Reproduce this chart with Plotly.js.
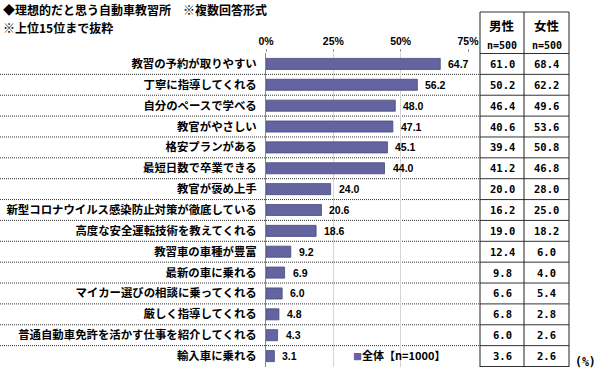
<!DOCTYPE html>
<html>
<head>
<meta charset="utf-8">
<script src="https://cdn.plot.ly/plotly-3.0.1.min.js"></script>
<style>html,body{margin:0;padding:0;background:#fff;}#chart{width:600px;height:381px;}</style>
</head>
<body>
<div id="chart"></div>
<script>
const categories = [
  "教習の予約が取りやすい",
  "丁寧に指導してくれる",
  "自分のペースで学べる",
  "教官がやさしい",
  "格安プランがある",
  "最短日数で卒業できる",
  "教官が褒め上手",
  "新型コロナウイルス感染防止対策が徹底している",
  "高度な安全運転技術を教えてくれる",
  "教習車の車種が豊富",
  "最新の車に乗れる",
  "マイカー選びの相談に乗ってくれる",
  "厳しく指導してくれる",
  "普通自動車免許を活かす仕事を紹介してくれる",
  "輸入車に乗れる"
];
const totalValues = [64.7, 56.2, 48.0, 47.1, 45.1, 44.0, 24.0, 20.6, 18.6, 9.2, 6.9, 6.0, 4.8, 4.3, 3.1];
const maleValues = [61.0, 50.2, 46.4, 40.6, 39.4, 41.2, 20.0, 16.2, 19.0, 12.4, 9.8, 6.6, 6.8, 6.0, 3.6];
const femaleValues = [68.4, 62.2, 49.6, 53.6, 50.8, 46.8, 28.0, 25.0, 18.2, 6.0, 4.0, 5.4, 2.8, 2.6, 2.6];
const xTickVals = [0, 25, 50, 75];
const xTickText = ["0%", "25%", "50%", "75%"];
const seriesName = "全体【n=1000】";
const colHeaders = ["男性", "女性"];
const colN = ["n=500", "n=500"];
const titleLine1 = "◆理想的だと思う自動車教習所　※複数回答形式";
const titleLine2 = "※上位15位まで抜粋";
const unitLabel = "(%)";

// layout geometry (pixels)
const W = 600, H = 381;
const L = 266, R = 468, T = 53, B = 367;
const pw = R - L, ph = B - T;
const px = x => (x - L) / pw;
const py = y => (B - y) / ph;

const JP = '"Noto Sans CJK JP", "Noto Sans", sans-serif';
const NUM = '"Liberation Sans", Arial, sans-serif';
const MONO = '"DejaVu Sans Mono", "Liberation Mono", monospace';
const barColor = '#6464a0';

const shapes = [];
const annotations = [];

// dotted row separators
for (let i = 0; i < categories.length - 1; i++) {
  shapes.push({type: 'line', xref: 'paper', yref: 'y', x0: px(0), x1: px(480), y0: i + 0.5, y1: i + 0.5,
    line: {color: '#333', width: 1, dash: '1px,1px'}, layer: 'below'});
}
// table horizontal lines
const tx0 = px(480), tx1 = px(524), tx2 = px(569);
shapes.push({type: 'line', xref: 'paper', yref: 'paper', x0: tx0, x1: tx2, y0: py(12), y1: py(12), line: {color: '#333', width: 1}});
for (let i = 0; i <= categories.length; i++) {
  shapes.push({type: 'line', xref: 'paper', yref: 'y', x0: tx0, x1: tx2, y0: i - 0.5, y1: i - 0.5, line: {color: '#333', width: 1}});
}
// table vertical lines
[tx0, tx1, tx2].forEach(x => {
  shapes.push({type: 'line', xref: 'paper', yref: 'paper', x0: x, x1: x, y0: 0, y1: py(12), line: {color: '#222', width: 1}});
});

// title
annotations.push({xref: 'paper', yref: 'paper', x: px(1), y: py(10), xanchor: 'left', yanchor: 'middle', showarrow: false,
  text: '<b>' + titleLine1 + '</b>', font: {family: JP, size: 12, color: '#000'}});
annotations.push({xref: 'paper', yref: 'paper', x: px(1), y: py(27), xanchor: 'left', yanchor: 'middle', showarrow: false,
  text: '<b>' + titleLine2 + '</b>', font: {family: JP, size: 12, color: '#000'}});

// value labels
totalValues.forEach((v, i) => {
  annotations.push({xref: 'x', yref: 'y', x: v, y: categories[i], xanchor: 'left', yanchor: 'middle', xshift: 6, showarrow: false,
    text: '<b>' + v.toFixed(1) + '</b>', font: {family: NUM, size: 10.5, color: '#000'}});
});

// table header
const colCenters = [px(502), px(546.5)];
colHeaders.forEach((h, j) => {
  annotations.push({xref: 'paper', yref: 'paper', x: colCenters[j], y: py(25), xanchor: 'center', yanchor: 'middle', showarrow: false,
    text: '<b>' + h + '</b>', font: {family: JP, size: 12.5, color: '#000'}});
  annotations.push({xref: 'paper', yref: 'paper', x: colCenters[j], y: py(45), xanchor: 'center', yanchor: 'middle', showarrow: false,
    text: '<b>' + colN[j] + '</b>', font: {family: MONO, size: 10, color: '#000'}});
});
// table values
[maleValues, femaleValues].forEach((arr, j) => {
  arr.forEach((v, i) => {
    annotations.push({xref: 'paper', yref: 'y', x: colCenters[j], y: categories[i], xanchor: 'center', yanchor: 'middle', showarrow: false,
      text: '<b>' + v.toFixed(1) + '</b>', font: {family: MONO, size: 10.5, color: '#000'}});
  });
});

// legend-like label
annotations.push({xref: 'paper', yref: 'paper', x: px(351), y: py(355), xanchor: 'left', yanchor: 'middle', showarrow: false,
  text: '<span style="color:' + barColor + ';font-size:9px">■</span><b>' + seriesName + '</b>', font: {family: JP, size: 11, color: '#000'}});

// unit
annotations.push({xref: 'paper', yref: 'paper', x: px(573), y: py(362), xanchor: 'left', yanchor: 'middle', showarrow: false,
  text: '<b>' + unitLabel + '</b>', font: {family: MONO, size: 11.5, color: '#000'}});

const trace = {
  type: 'bar', orientation: 'h',
  x: totalValues, y: categories,
  name: seriesName,
  marker: {color: barColor, line: {color: '#4a4a7c', width: 0.8}},
  hoverinfo: 'none', showlegend: false
};

const layout = {
  width: W, height: H,
  margin: {l: L, r: W - R, t: T, b: H - B, pad: 0},
  paper_bgcolor: '#fff', plot_bgcolor: '#fff',
  bargap: 0.47,
  showlegend: false,
  xaxis: {
    side: 'top', range: [0, 75], tickvals: xTickVals, ticktext: xTickText.map(t => '<b>' + t + '</b>'),
    showgrid: true, gridcolor: '#d4d4d4', gridwidth: 1, zeroline: false,
    ticks: 'outside', ticklen: 3, tickcolor: '#999', showline: false,
    tickfont: {family: NUM, size: 10.5, color: '#000'}, fixedrange: true
  },
  yaxis: {
    type: 'category', autorange: 'reversed', showgrid: false, zeroline: false,
    showline: true, linecolor: '#888', linewidth: 1,
    ticks: '', ticklabelstandoff: 6,
    tickvals: categories, ticktext: categories.map(c => '<b>' + c + '</b>'),
    tickfont: {family: JP, size: 11.4, color: '#000'}, fixedrange: true
  },
  shapes: shapes,
  annotations: annotations
};

Plotly.newPlot('chart', [trace], layout, {staticPlot: true, displayModeBar: false});
</script>
</body>
</html>
